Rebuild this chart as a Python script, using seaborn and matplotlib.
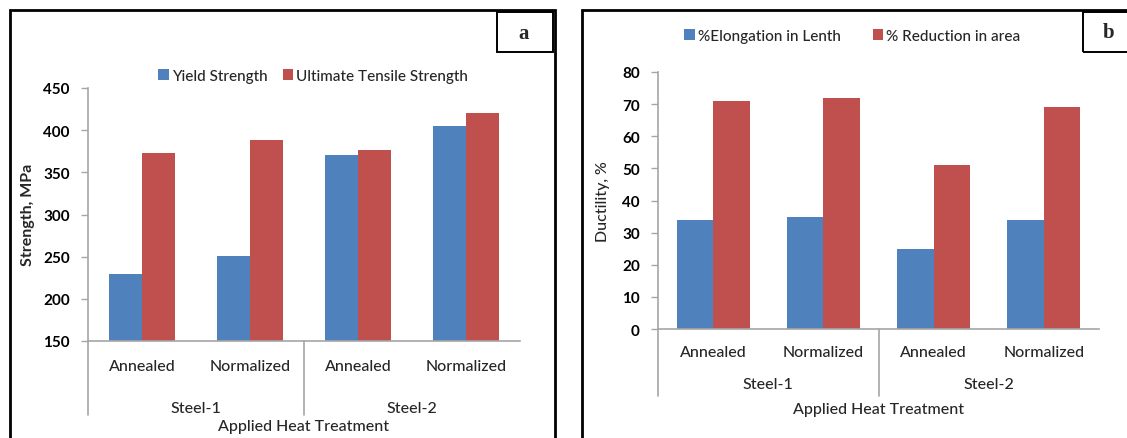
import matplotlib
matplotlib.use("Agg")
import matplotlib.pyplot as plt
import matplotlib.transforms as mtransforms
from matplotlib.patches import Rectangle
import seaborn as sns
import pandas as pd

# ─── Dane ───────────────────────────────────────────────────────────
steels = ["Steel-1", "Steel-1", "Steel-2", "Steel-2"]
treatments = ["Annealed", "Normalized", "Annealed", "Normalized"]
yield_strength = [230, 251, 370, 405]
uts = [373, 388, 376, 420]
elongation = [34, 35, 25, 34]
reduction_area = [71, 72, 51, 69]

BLUE = "#4F81BD"
RED = "#C0504D"
AXIS_GRAY = "#A6A6A6"
W, H = 1127, 439
TXT_W = "medium"

sns.set_theme(style="white")
plt.rcParams["font.family"] = ["Lato", "DejaVu Sans"]


def long_df(a, b, name_a, name_b):
    keys = [f"{s} {t}" for s, t in zip(steels, treatments)]
    return pd.DataFrame({
        "cat": keys * 2,
        "series": [name_a] * 4 + [name_b] * 4,
        "value": list(a) + list(b),
    }), keys


def px_axes(fig, x0, y0, x1, y1):
    return fig.add_axes([x0 / W, 1 - y1 / H, (x1 - x0) / W, (y1 - y0) / H])


def style_panel(ax, df, order, ylim, ticks, width, lab_y, steel_y, line_y, title_y,
                leg_anchor, colspacing):
    sns.barplot(data=df, x="cat", y="value", hue="series", order=order,
                palette=[BLUE, RED], width=width, linewidth=0, ax=ax, saturation=1)
    ax.set_ylim(*ylim)
    ax.set_yticks(ticks)
    ax.set_yticklabels([str(t) for t in ticks], fontsize=11, fontweight="bold")
    ax.set_xlim(-0.5, 3.5)
    ax.set_xticks([])
    ax.set_xlabel("")
    ax.set_ylabel("")
    for s in ["top", "right"]:
        ax.spines[s].set_visible(False)
    for s in ["left", "bottom"]:
        ax.spines[s].set_color(AXIS_GRAY)
        ax.spines[s].set_linewidth(1.2)
    ax.tick_params(axis="y", left=True, length=5, width=1, pad=8, labelcolor="black")
    ax.tick_params(axis="y", color=AXIS_GRAY)

    tr = mtransforms.blended_transform_factory(ax.transData, ax.transAxes)
    for i, t in enumerate(treatments):
        ax.text(i, lab_y, t, transform=tr, ha="center", va="center", fontsize=11.5,
                fontweight=TXT_W)
    for j, s in enumerate(["Steel-1", "Steel-2"]):
        ax.text(0.5 + 2 * j, steel_y, s, transform=tr, ha="center", va="center",
                fontsize=11.5, fontweight=TXT_W)
    for xb in [-0.5, 1.5]:
        ax.plot([xb, xb], [0, line_y], transform=tr, color=AXIS_GRAY, lw=1.2, clip_on=False)
    ax.text(0.5, title_y, "Applied Heat Treatment", transform=ax.transAxes,
            ha="center", va="center", fontsize=11.5, fontweight=TXT_W)

    handles, labels = ax.get_legend_handles_labels()
    ax.legend(handles, labels, ncol=2, loc="center left", bbox_to_anchor=leg_anchor,
              bbox_transform=ax.figure.transFigure, frameon=False,
              prop={"size": 11, "weight": TXT_W},
              handlelength=0.7, handleheight=0.7, handletextpad=0.2,
              columnspacing=colspacing, borderpad=0, borderaxespad=0)


fig = plt.figure(figsize=(W / 100, H / 100), dpi=100)

# ─── Panel a ─────────────────────────────────────────────────────────
df_a, order = long_df(yield_strength, uts, "Yield Strength", "Ultimate Tensile Strength")
ax_a = px_axes(fig, 88, 89, 520, 342)
style_panel(ax_a, df_a, order, (150, 450), range(150, 451, 50), 0.62,
            -(367 - 342) / 253, -(409 - 342) / 253, -(416 - 342) / 253, -(427 - 342) / 253,
            (158 / W, 1 - 77 / H), 1.0)
fig.text(28 / W, 1 - 215 / H, "Strength, MPa", rotation=90, ha="center", va="center",
         fontsize=11.5, fontweight="bold")

# ─── Panel b ─────────────────────────────────────────────────────────
df_b, order = long_df(elongation, reduction_area, "%Elongation in Lenth", "% Reduction in area")
ax_b = px_axes(fig, 658, 73, 1099, 330)
style_panel(ax_b, df_b, order, (0, 80), range(0, 81, 10), 0.66,
            -(353 - 330) / 257, -(385 - 330) / 257, -(397 - 330) / 257, -(410 - 330) / 257,
            (684 / W, 1 - 37 / H), 2.1)
fig.text(603 / W, 1 - 202 / H, "Ductility, %", rotation=90, ha="center", va="center",
         fontsize=11.5, fontweight=TXT_W)

# ─── Ramki ───────────────────────────────────────────────────────────
def frame(x0, y0, x1, y1, lw):
    fig.patches.append(Rectangle((x0 / W, 1 - y1 / H), (x1 - x0) / W, (y1 - y0) / H,
                                 transform=fig.transFigure, fill=False, ec="black",
                                 lw=lw, zorder=5))

frame(10, 11, 555, 445, 2.0)
frame(582, 11, 1135, 445, 2.0)
frame(497, 13, 553, 53, 1.4)
frame(1083, 13, 1135, 53, 1.4)
fig.text(524 / W, 1 - 34 / H, "a", ha="center", va="center", fontsize=15,
         fontweight="bold", family="Liberation Serif")
fig.text(1109 / W, 1 - 33 / H, "b", ha="center", va="center", fontsize=15,
         fontweight="bold", family="Liberation Serif")

fig.savefig("out.png", dpi=100)
